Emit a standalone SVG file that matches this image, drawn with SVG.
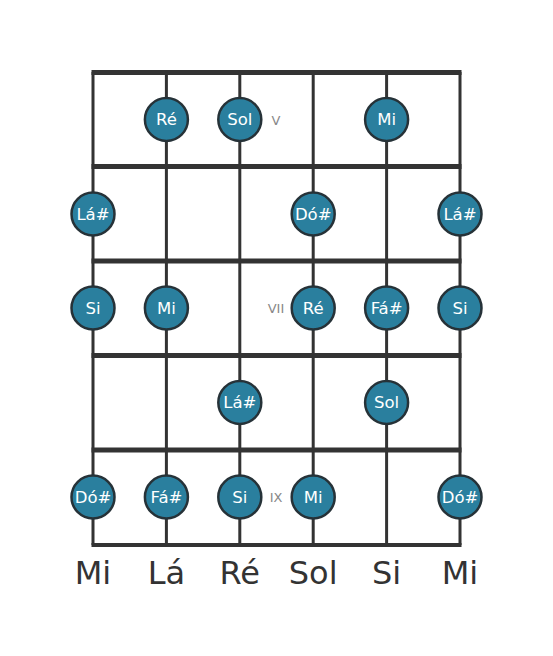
<svg xmlns="http://www.w3.org/2000/svg" width="553" height="656" viewBox="0 0 553 656">
<style>
.str{stroke:#333;stroke-width:3;fill:none}
.fret{stroke:#333;stroke-width:5;fill:none}
.note circle{fill:#2a7f9e;stroke:#263238;stroke-width:2.5}
.note text{fill:#fff;font-family:"DejaVu Sans",sans-serif;font-size:16.5px;text-anchor:middle;dominant-baseline:central}
.fl{fill:#888;font-family:"DejaVu Sans",sans-serif;font-size:13px;text-anchor:middle;dominant-baseline:central}
.sl{fill:#333;font-family:"DejaVu Sans",sans-serif;font-size:32px;text-anchor:middle}
</style>
<rect width="553" height="656" fill="#fff"/>
<g id="connectors">
<line class="str" x1="93" y1="72" x2="93" y2="545"/>
<line class="str" x1="166.4" y1="72" x2="166.4" y2="545"/>
<line class="str" x1="239.8" y1="72" x2="239.8" y2="545"/>
<line class="str" x1="313.2" y1="72" x2="313.2" y2="545"/>
<line class="str" x1="386.6" y1="72" x2="386.6" y2="545"/>
<line class="str" x1="460" y1="72" x2="460" y2="545"/>
<line class="fret" x1="91.5" y1="72.5" x2="461.5" y2="72.5"/>
<line class="fret" x1="91.5" y1="166.5" x2="461.5" y2="166.5"/>
<line class="fret" x1="91.5" y1="261" x2="461.5" y2="261"/>
<line class="fret" x1="91.5" y1="355.5" x2="461.5" y2="355.5"/>
<line class="fret" x1="91.5" y1="450" x2="461.5" y2="450"/>
<line class="fret" x1="91.5" y1="545" x2="461.5" y2="545" style="stroke-width:4"/>
</g>
<g id="fret-labels">
<text class="fl" x="276" y="120">V</text>
<text class="fl" x="276" y="308">VII</text>
<text class="fl" x="276" y="497">IX</text>
</g>
<g id="n1" class="note"><circle cx="166.4" cy="119.5" r="21.5"/><text x="166.4" y="119.5">Ré</text></g>
<g id="n2" class="note"><circle cx="239.8" cy="119.5" r="21.5"/><text x="239.8" y="119.5">Sol</text></g>
<g id="n3" class="note"><circle cx="386.6" cy="119.5" r="21.5"/><text x="386.6" y="119.5">Mi</text></g>
<g id="n4" class="note"><circle cx="93" cy="214" r="21.5"/><text x="93" y="214">Lá#</text></g>
<g id="n5" class="note"><circle cx="313.2" cy="214" r="21.5"/><text x="313.2" y="214">Dó#</text></g>
<g id="n6" class="note"><circle cx="460" cy="214" r="21.5"/><text x="460" y="214">Lá#</text></g>
<g id="n7" class="note"><circle cx="93" cy="308" r="21.5"/><text x="93" y="308">Si</text></g>
<g id="n8" class="note"><circle cx="166.4" cy="308" r="21.5"/><text x="166.4" y="308">Mi</text></g>
<g id="n9" class="note"><circle cx="313.2" cy="308" r="21.5"/><text x="313.2" y="308">Ré</text></g>
<g id="n10" class="note"><circle cx="386.6" cy="308" r="21.5"/><text x="386.6" y="308">Fá#</text></g>
<g id="n11" class="note"><circle cx="460" cy="308" r="21.5"/><text x="460" y="308">Si</text></g>
<g id="n12" class="note"><circle cx="239.8" cy="402.5" r="21.5"/><text x="239.8" y="402.5">Lá#</text></g>
<g id="n13" class="note"><circle cx="386.6" cy="402.5" r="21.5"/><text x="386.6" y="402.5">Sol</text></g>
<g id="n14" class="note"><circle cx="93" cy="497" r="21.5"/><text x="93" y="497">Dó#</text></g>
<g id="n15" class="note"><circle cx="166.4" cy="497" r="21.5"/><text x="166.4" y="497">Fá#</text></g>
<g id="n16" class="note"><circle cx="239.8" cy="497" r="21.5"/><text x="239.8" y="497">Si</text></g>
<g id="n17" class="note"><circle cx="313.2" cy="497" r="21.5"/><text x="313.2" y="497">Mi</text></g>
<g id="n18" class="note"><circle cx="460" cy="497" r="21.5"/><text x="460" y="497">Dó#</text></g>
<g id="string-labels">
<text class="sl" x="93" y="584">Mi</text>
<text class="sl" x="166.4" y="584">Lá</text>
<text class="sl" x="239.8" y="584">Ré</text>
<text class="sl" x="313.2" y="584">Sol</text>
<text class="sl" x="386.6" y="584">Si</text>
<text class="sl" x="460" y="584">Mi</text>
</g>
</svg>
